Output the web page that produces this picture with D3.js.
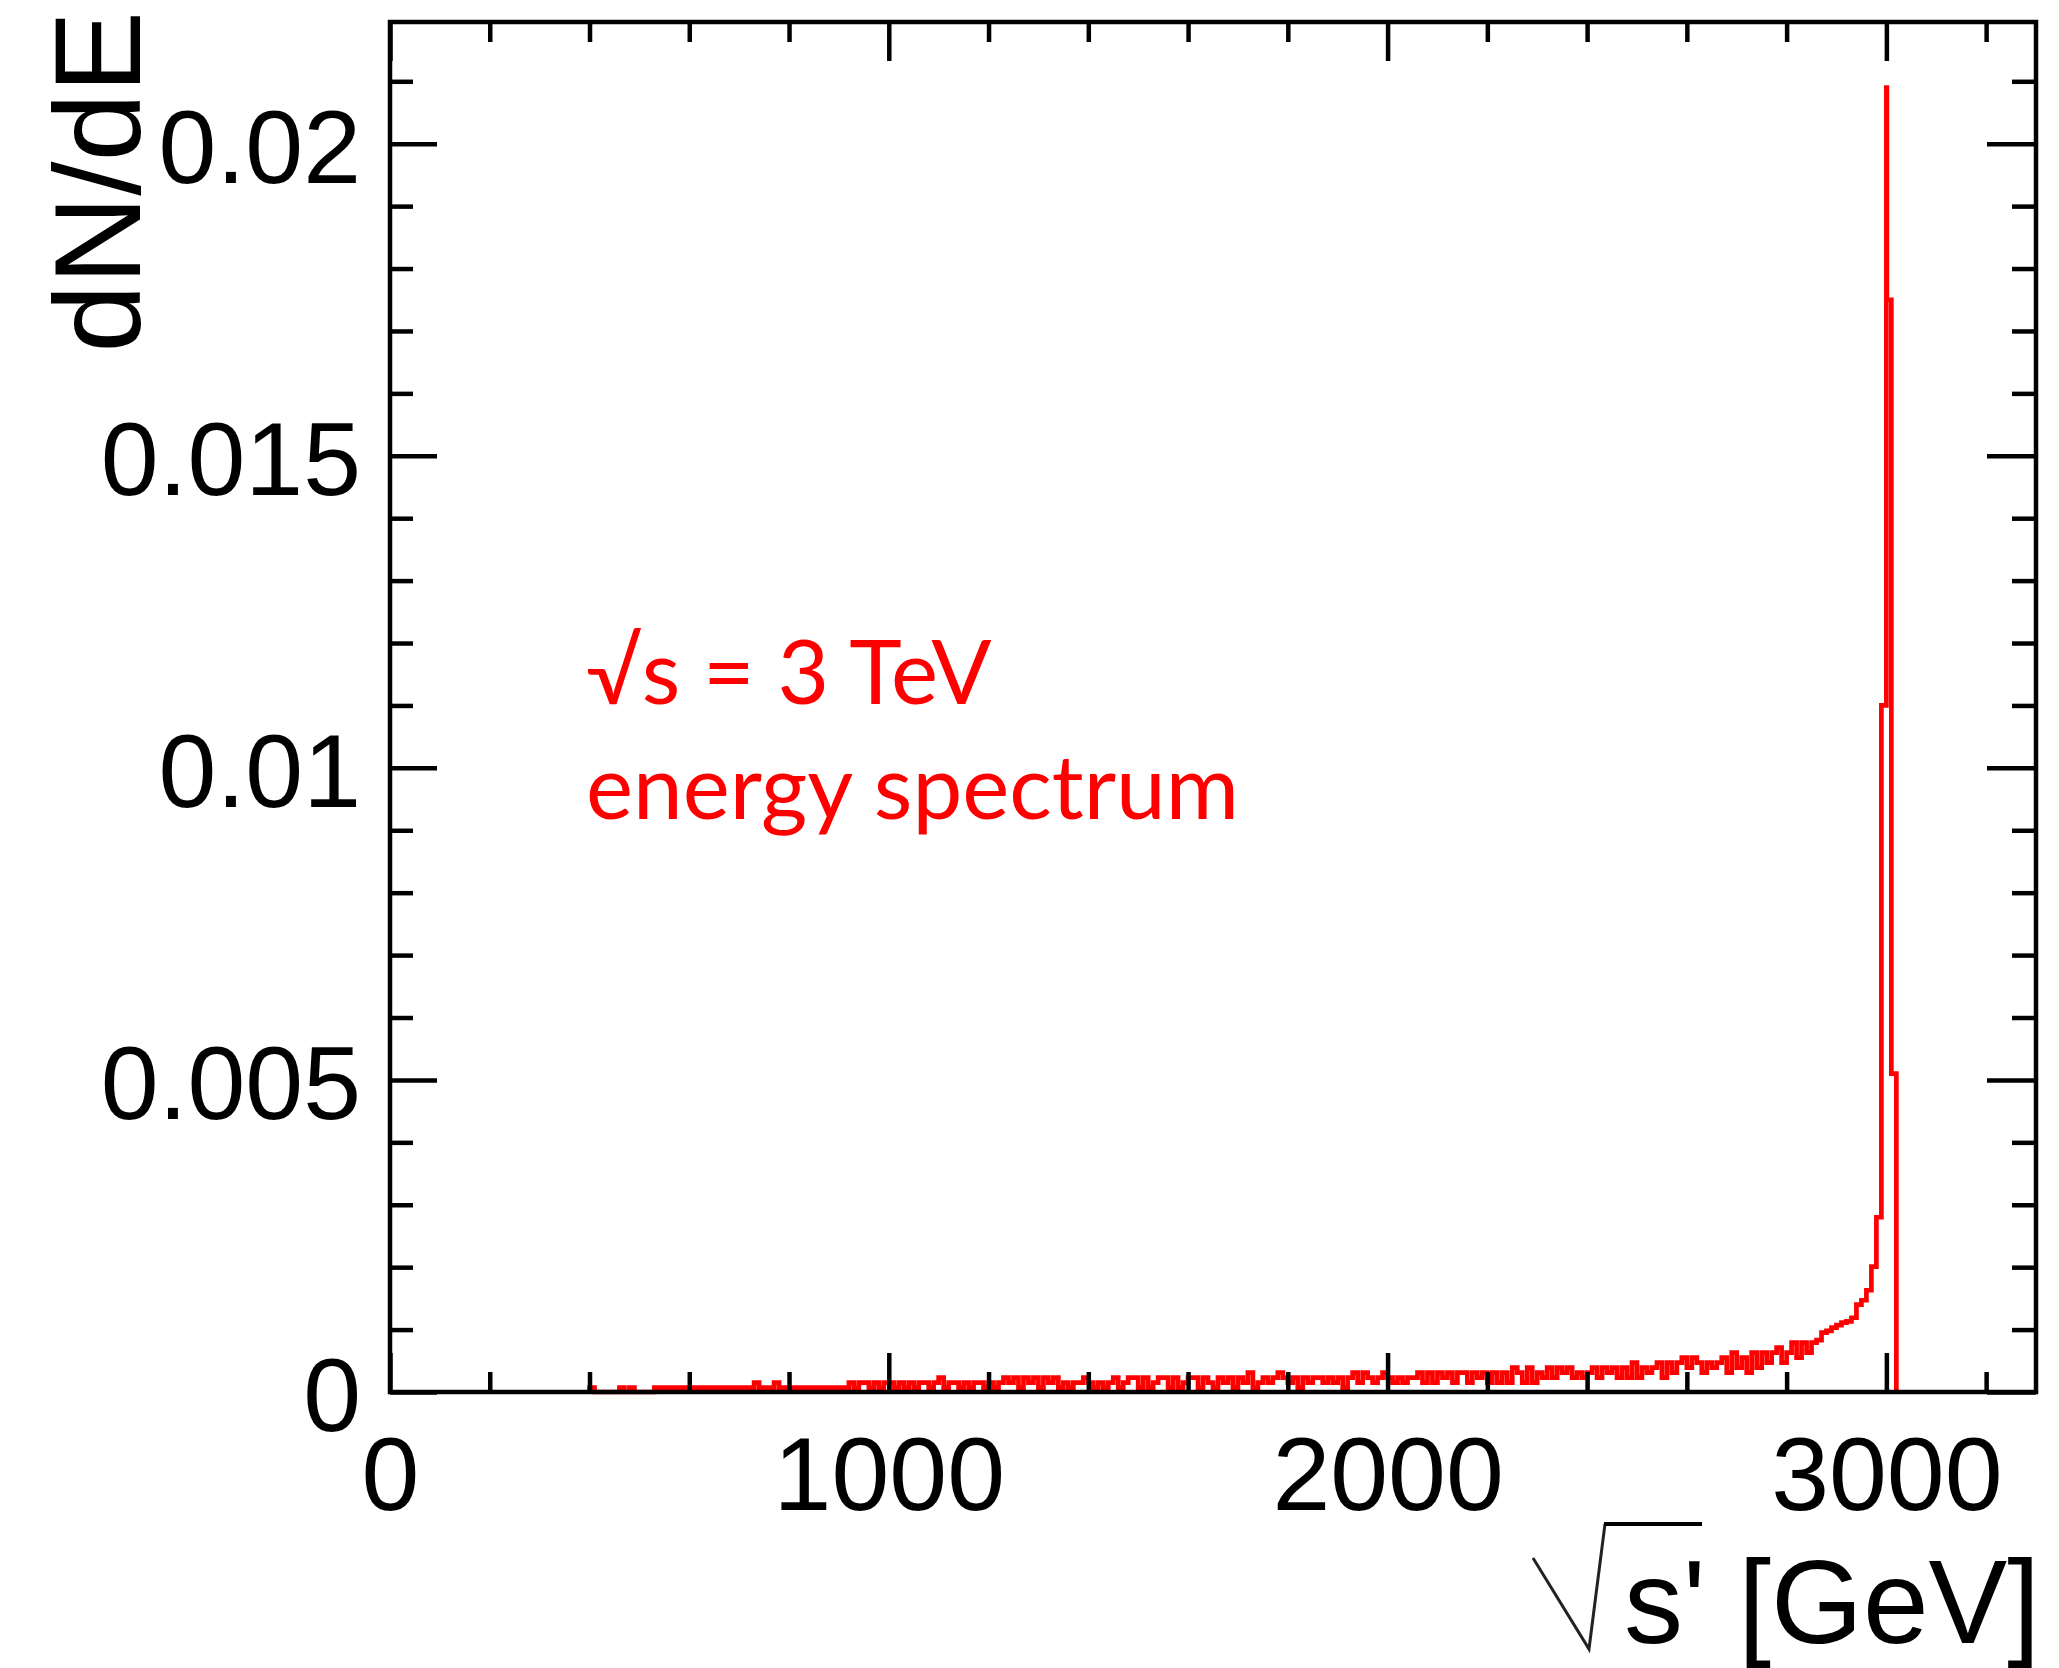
<!DOCTYPE html>
<html><head><meta charset="utf-8">
<script src="https://cdn.jsdelivr.net/npm/d3@7"></script>
<style>html,body{margin:0;padding:0;background:#fff}</style>
</head><body>
<script>
// ---- data ----
const xTickValues = [0, 1000, 2000, 3000];
const xTickLabels = ["0", "1000", "2000", "3000"];
const yTickValues = [0, 0.005, 0.01, 0.015, 0.02];
const yTickLabels = ["0", "0.005", "0.01", "0.015", "0.02"];
const xTitle = "s' [GeV]";
const yTitle = "dN/dE";
const annotationLines = ["√s = 3 TeV", "energy spectrum"];

// tail of the spectrum: bins of 10 GeV starting at 400 GeV
const tailStart = 400, tailBinWidth = 10;
const tailValues = [
0.00007,0,0,0,0,0,0.00007,0,0.00007,0,
0,0,0,0.00007,0.00007,0.00007,0.00007,0.00007,0.00007,0.00007,
0.00007,0.00007,0.00007,0.00007,0.00007,0.00007,0.00007,0.00007,0.00007,0.00007,
0.00007,0.00007,0.00007,0.00015,0.00007,0.00007,0.00007,0.00015,0.00007,0.00007,
0.00007,0.00007,0.00007,0.00007,0.00007,0.00007,0.00007,0.00007,0.00007,0.00007,
0.00007,0.00007,0.00015,0.00007,0.00015,0.00015,0.00007,0.00015,0.00007,0.00015,
0.00015,0.00007,0.00015,0.00007,0.00015,0.00007,0.00015,0.00015,0.00007,0.00015,
0.00023,0.00007,0.00015,0.00015,0.00007,0.00015,0.00007,0.00015,0.00015,0.00007,
0.00015,0.00007,0.00015,0.00023,0.00015,0.00023,0.00007,0.00023,0.00015,0.00023,
0.00007,0.00023,0.00015,0.00023,0.00007,0.00015,0.00007,0.00015,0.00015,0.00023,
0.00015,0.00007,0.00015,0.00007,0.00015,0.00023,0.00007,0.00015,0.00023,0.00023,
0.00007,0.00023,0.00007,0.00015,0.00023,0.00023,0.00007,0.00023,0.00007,0.00015,
0.00023,0.00023,0.00007,0.00023,0.00015,0.00007,0.00023,0.00015,0.00023,0.00007,
0.00023,0.00015,0.00031,0.00007,0.00015,0.00023,0.00015,0.00023,0.00031,0.00023,
0.00015,0.00023,0.00007,0.00023,0.00015,0.00023,0.00023,0.00015,0.00023,0.00015,
0.00023,0.00007,0.00023,0.00031,0.00015,0.00031,0.00023,0.00015,0.00023,0.00031,
0.00023,0.00015,0.00023,0.00015,0.00023,0.00023,0.00031,0.00015,0.00031,0.00015,
0.00031,0.00023,0.00031,0.00015,0.00031,0.00031,0.00015,0.00031,0.00023,0.00031,
0.00015,0.00031,0.00015,0.00031,0.00015,0.00039,0.00031,0.00015,0.00039,0.00015,
0.00031,0.00023,0.00039,0.00023,0.00039,0.00031,0.00039,0.00023,0.00031,0.00023,
0.00031,0.00039,0.00023,0.00039,0.00031,0.00039,0.00023,0.00039,0.00023,0.00047,
0.00023,0.00039,0.00031,0.00039,0.00047,0.00023,0.00047,0.00031,0.00047,0.00055,
0.00039,0.00055,0.00047,0.00031,0.00047,0.00039,0.00047,0.00055,0.00031,0.00063,
0.00039,0.00055,0.00031,0.00063,0.00039,0.00063,0.00047,0.00063,0.00071,0.00047,
0.00063,0.00079,0.00055,0.00079,0.00063,0.00079,0.00083,0.00095,0.00098,0.00103,
0.00107,0.00111,0.00113,0.00119,0.0014,0.00147,0.00163,0.00201,0.0028
];
// peak region: explicit bin edges (GeV) and contents
const peakEdges = [2990, 3000, 3001, 3010, 3020];
const peakValues = [0.011, 0.0209, 0.0175, 0.0051];

// ---- layout ----
const W = 2059, H = 1668;
const frame = {left: 390, right: 2036, top: 22, bottom: 1392};
const svg = d3.select("body").append("svg")
  .attr("width", W).attr("height", H)
  .attr("viewBox", `0 0 ${W} ${H}`)
  .style("display", "block").style("background", "#fff");

const x = d3.scaleLinear().domain([0, 3300]).range([frame.left, frame.right]);
const y = d3.scaleLinear().domain([0, 0.02195]).range([frame.bottom, frame.top]);

// ---- histogram (step outline) ----
const bins = tailValues.map((v, i) => ({x0: tailStart + i * tailBinWidth, x1: tailStart + (i + 1) * tailBinWidth, v}));
peakValues.forEach((v, i) => bins.push({x0: peakEdges[i], x1: peakEdges[i + 1], v}));
const pts = [[bins[0].x0, 0]];
bins.forEach(b => { pts.push([b.x0, b.v]); pts.push([b.x1, b.v]); });
pts.push([bins[bins.length - 1].x1, 0]);

svg.append("path")
  .attr("d", d3.line().x(d => x(d[0])).y(d => y(d[1]))(pts))
  .attr("fill", "none").attr("stroke", "#ff0000")
  .attr("stroke-width", 4.7).attr("stroke-linejoin", "miter");

// ---- axes ----
const FONT = "'Liberation Sans', Arial, Helvetica, sans-serif";
const xMinor = d3.range(200, 3300, 200).filter(v => v % 1000 !== 0);
const yMinor = d3.range(1, 22).map(i => i / 1000).filter(v => Math.abs(v * 1000 % 5) > 1e-9);

function styleAxis(g) {
  g.select(".domain").remove();
  g.selectAll(".tick line").attr("stroke", "#000").attr("stroke-width", 4.5);
  g.selectAll("text").attr("font-family", FONT).attr("font-size", 104).attr("fill", "#000");
}

// bottom
svg.append("g").attr("transform", `translate(0,${frame.bottom})`)
  .call(d3.axisBottom(x).tickValues(xTickValues).tickSize(-39).tickPadding(44)
        .tickFormat((d, i) => xTickLabels[i]))
  .call(styleAxis);
svg.append("g").attr("transform", `translate(0,${frame.bottom})`)
  .call(d3.axisBottom(x).tickValues(xMinor).tickSize(-20).tickFormat(""))
  .call(styleAxis);
// top
svg.append("g").attr("transform", `translate(0,${frame.top})`)
  .call(d3.axisTop(x).tickValues(xTickValues).tickSize(-39).tickFormat(""))
  .call(styleAxis);
svg.append("g").attr("transform", `translate(0,${frame.top})`)
  .call(d3.axisTop(x).tickValues(xMinor).tickSize(-20).tickFormat(""))
  .call(styleAxis);
// left
const gl = svg.append("g").attr("transform", `translate(${frame.left},0)`)
  .call(d3.axisLeft(y).tickValues(yTickValues).tickSize(-47).tickPadding(29)
        .tickFormat((d, i) => yTickLabels[i]))
  .call(styleAxis);
gl.selectAll("text").attr("dy", "0.37em");
svg.append("g").attr("transform", `translate(${frame.left},0)`)
  .call(d3.axisLeft(y).tickValues(yMinor).tickSize(-23).tickFormat(""))
  .call(styleAxis);
// right
svg.append("g").attr("transform", `translate(${frame.right},0)`)
  .call(d3.axisRight(y).tickValues(yTickValues).tickSize(-49).tickFormat(""))
  .call(styleAxis);
svg.append("g").attr("transform", `translate(${frame.right},0)`)
  .call(d3.axisRight(y).tickValues(yMinor).tickSize(-24).tickFormat(""))
  .call(styleAxis);

// frame
svg.append("rect")
  .attr("x", frame.left).attr("y", frame.top)
  .attr("width", frame.right - frame.left).attr("height", frame.bottom - frame.top)
  .attr("fill", "none").attr("stroke", "#000").attr("stroke-width", 4.5);

// ---- titles ----
svg.append("text")
  .attr("transform", "translate(140,11) rotate(-90)")
  .attr("text-anchor", "end")
  .attr("font-family", FONT).attr("font-size", 123).attr("fill", "#000")
  .text(yTitle);

svg.append("text")
  .attr("x", 2040).attr("y", 1643)
  .attr("text-anchor", "end")
  .attr("font-family", FONT).attr("font-size", 118).attr("fill", "#000")
  .text(xTitle);
// radical sign for sqrt(s')
svg.append("path")
  .attr("d", "M1533,1558 L1589,1649 L1605,1524")
  .attr("fill", "none").attr("stroke", "#222").attr("stroke-width", 3)
  .attr("stroke-linejoin", "miter");
svg.append("path")
  .attr("d", "M1604,1524 L1702,1524")
  .attr("stroke", "#000").attr("stroke-width", 4);

// ---- annotation ----
const ann = svg.append("g").attr("font-family", "Lato, 'DejaVu Sans', sans-serif").attr("fill", "#ff0000");
const t1 = ann.append("text").attr("x", 586).attr("y", 704).attr("font-size", 88).text(annotationLines[0]);
const t2 = ann.append("text").attr("x", 586).attr("y", 819).attr("font-size", 88).text(annotationLines[1]);
const w2 = t2.node().getComputedTextLength();
const fs = 88 * 653 / w2;
t1.attr("font-size", fs); t2.attr("font-size", fs);
</script>
</body></html>
